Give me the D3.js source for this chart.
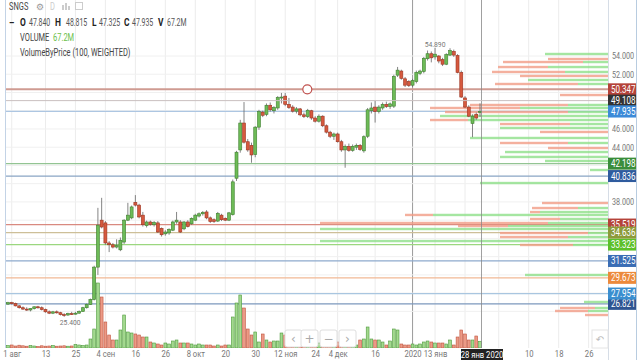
<!DOCTYPE html>
<html><head><meta charset="utf-8">
<script src="https://cdn.jsdelivr.net/npm/d3@7"></script>
<style>
body{margin:0;background:#fff;}
svg{display:block;font-family:Roboto,"Noto Sans",sans-serif;}
</style></head><body>
<script>
// OHLCV, one entry per trading day (1 Aug 2019 .. 28 Jan 2020)
var open = [26.80,26.95,26.85,26.60,26.40,26.25,26.15,26.30,26.50,26.40,
  26.20,25.95,25.80,25.95,25.85,25.65,25.60,25.75,25.70,25.80,
  26.00,26.40,26.75,27.30,30.85,36.00,35.70,33.50,33.30,33.05,
  32.75,33.60,36.00,36.25,37.95,37.65,36.55,35.40,35.80,35.50,
  35.70,35.10,34.50,34.60,34.90,35.80,35.80,35.05,35.80,35.60,
  36.00,36.45,36.70,36.90,36.25,36.05,35.90,36.55,36.20,36.00,
  36.60,40.60,43.70,46.65,44.60,44.20,43.20,46.20,47.85,47.60,
  48.60,48.00,48.30,49.40,49.60,48.70,48.40,47.95,48.20,47.55,
  47.35,48.00,47.20,46.85,47.40,46.35,45.65,45.20,45.45,44.60,
  43.70,44.10,43.65,44.00,44.20,43.60,45.20,48.00,48.40,47.90,
  48.30,48.70,48.45,48.50,51.90,52.35,51.50,51.20,50.80,51.20,
  52.10,52.30,53.70,54.25,53.90,54.00,53.60,53.10,54.10,54.50,
  54.05,52.20,49.40,48.40,46.60,47.60,47.84];
var high = [27.05,27.05,26.95,26.70,26.55,26.45,26.35,26.55,26.60,26.55,
  26.30,26.10,26.05,26.10,25.95,25.80,25.85,25.95,25.95,26.10,
  26.50,26.85,27.40,31.00,37.35,38.45,35.90,33.70,33.50,33.90,
  34.10,36.10,37.90,37.60,38.75,37.80,36.90,35.95,35.95,35.90,
  35.90,35.20,34.90,35.10,35.95,36.90,36.00,35.90,36.00,36.30,
  36.70,36.85,37.00,37.10,36.40,36.20,36.90,36.70,36.30,36.90,
  40.45,43.60,47.00,48.95,44.90,44.50,46.30,48.10,48.00,48.80,
  48.90,48.50,49.60,49.95,49.95,49.40,48.60,48.40,48.30,47.80,
  48.20,48.10,47.40,47.60,47.50,46.50,45.80,45.60,45.60,44.80,
  44.30,44.40,44.30,44.40,44.35,45.30,48.30,48.90,49.10,48.60,
  48.90,49.00,48.90,51.95,52.80,52.50,51.70,51.35,51.50,52.40,
  52.50,53.90,54.60,54.50,54.89,54.10,53.80,54.30,54.85,54.70,
  54.20,52.40,49.60,48.60,47.60,47.80,48.815];
var low = [26.70,26.75,26.55,26.30,26.15,26.05,26.00,26.20,26.30,26.10,
  25.85,25.70,25.70,25.75,25.55,25.40,25.50,25.60,25.65,25.75,
  25.95,26.30,26.70,27.20,30.00,35.10,33.30,32.50,32.90,32.90,
  32.60,33.40,35.90,36.10,37.50,36.20,35.30,35.20,35.40,35.30,
  34.60,34.20,34.30,34.40,34.80,35.60,34.60,34.90,35.20,35.50,
  35.90,36.30,36.50,36.10,35.70,35.70,35.80,35.90,35.90,35.90,
  36.50,40.30,43.40,44.40,43.50,42.30,42.90,45.90,47.30,47.40,
  47.90,47.70,48.10,48.80,48.50,48.20,47.80,47.70,47.40,47.20,
  47.20,47.00,46.70,46.70,46.20,45.50,45.00,44.80,44.50,43.50,
  41.75,43.50,43.50,43.70,43.60,43.40,45.00,47.70,46.70,47.70,
  48.10,48.30,48.20,48.30,51.70,51.40,50.60,50.60,50.60,51.00,
  51.90,52.10,53.50,53.30,53.60,53.20,52.90,53.00,54.00,53.90,
  52.10,49.40,48.30,47.30,45.10,47.00,47.325];
var close = [26.95,26.85,26.60,26.40,26.25,26.15,26.30,26.50,26.40,26.20,
  25.95,25.80,25.95,25.85,25.65,25.60,25.75,25.70,25.80,26.00,
  26.40,26.75,27.30,30.85,35.45,35.25,33.50,33.30,33.05,33.20,
  33.80,36.00,36.55,37.45,37.65,36.35,35.50,35.80,35.55,35.75,
  34.70,34.40,34.70,35.00,35.80,36.00,34.70,35.80,35.30,36.20,
  36.55,36.70,36.85,36.25,35.85,35.85,36.75,36.05,36.00,36.80,
  40.20,43.45,46.65,44.55,43.70,43.15,46.20,47.90,47.50,48.60,
  48.10,48.35,49.45,49.50,48.70,48.35,47.95,48.20,47.55,47.35,
  48.05,47.20,46.85,47.40,46.35,45.65,45.20,45.45,44.60,43.70,
  44.10,43.65,44.10,44.20,43.75,45.15,48.10,48.30,47.90,48.40,
  48.70,48.45,48.75,51.75,52.45,51.55,50.80,50.75,51.30,52.20,
  52.35,53.75,54.25,53.80,54.20,53.45,53.10,54.15,54.60,54.10,
  52.20,49.50,48.40,47.40,47.40,47.20,47.935];
// volume, millions
var volume = [25,30,20,28,22,18,25,20,15,22,
  18,20,25,18,20,22,18,20,35,30,
  25,30,90,190,650,510,260,130,80,80,
  180,330,160,150,140,130,110,110,60,50,
  40,30,50,40,70,80,50,50,50,40,
  30,40,30,30,30,20,30,20,30,30,
  310,450,530,400,190,130,160,60,140,80,
  60,70,70,150,130,60,50,40,50,40,
  60,50,40,50,60,70,50,40,60,70,
  90,40,30,30,80,90,210,90,80,80,
  60,30,70,190,180,40,30,30,40,30,
  40,60,70,60,50,50,50,40,80,30,
  110,180,140,80,80,120,67.2];

// x axis: day index of each label
var tickIdx = [1,10,18,26,34,42,50,58,66,74,82,88,98,108,114,122,131,139,147,155];
var tickLabels = ["1 авг","13","25","4 сен","16","26","8 окт","20","30","12 ноя","24",
  "4 дек","16","2020","13 янв","20","3 фев","10","18","26"];
var yTicks = [26,28,30,32,34,36,38,40,42,44,46,48,50,52,54];

// horizontal price levels and their label colours
var levelPrice = [26.821,27.954,29.673,31.525,33.323,35.519,34.636,40.836,42.198,47.935,50.347];
var levelLine  = ["#7d98bd","#a9c6e0","#f1b895","#8eaacd","#9bd77f","#d98a80","#cdbf98","#8aa5c4","#93c493","#adc6e2","#cf9b92"];
var levelBox   = ["#2f5592","#3a8ecf","#ec8a3c","#3a6db5","#5cc02a","#b5433a","#8d9a3a","#2f5b9e","#3a8d3a","#3c8ad8","#b5433a"];

// VolumeByPrice rows: bin price, up volume, down volume (millions)
var vbpPrice = [54.22,53.67,53.34,52.79,52.25,51.81,51.37,50.93,49.72,48.63,48.30,47.86,47.42,46.98,
  46.54,46.11,45.67,45.01,44.46,43.91,43.47,42.93,42.49,41.50,40.07,37.88,37.33,36.89,36.57,36.13,
  35.69,35.36,35.03,34.59,34.15,33.71,33.28,29.99,27.03,26.37,26.04,25.60];
var vbpUp = [630,0,250,600,430,0,800,300,0,400,880,400,1680,1400,
  380,1080,0,1380,400,0,1030,1080,630,180,1280,0,300,680,1750,480,
  600,1000,2880,200,400,2880,350,830,240,130,200,0];
var vbpDown = [0,600,800,500,730,880,0,830,480,980,900,1230,0,380,
  700,0,680,0,680,600,0,0,0,0,0,660,460,100,280,300,
  2280,500,0,880,680,0,530,0,0,350,330,230];

var crossIdx = 126, crossPrice = 49.108;
var markIdx = 79.9, markPrice = 50.347;

var W = 640, H = 360, left = 6, right = 608, bottom = 348;
var svg = d3.select("body").append("svg").attr("width", W).attr("height", H);

var x = d3.scaleLinear().domain([0, 126]).range([8, 480]);
var y = d3.scaleLinear().domain([24, 54]).range([329.6, 56]);
var v = d3.scaleLinear().domain([0, 700]).range([bottom, 278]);
var vb = d3.scaleLinear().domain([0, 2900]).range([0, 290]);

svg.append("defs").append("clipPath").attr("id", "plot")
  .append("rect").attr("x", left).attr("y", 0).attr("width", right - left).attr("height", bottom);

var plot = svg.append("g").attr("clip-path", "url(#plot)");

// grid
plot.selectAll(".vg").data(tickIdx).enter().append("line")
  .attr("x1", function(d){return x(d);}).attr("x2", function(d){return x(d);})
  .attr("y1", 0).attr("y2", bottom)
  .attr("stroke", function(d, i){return tickLabels[i] == "2020" ? "#9a9a9a" : "#ececec";})
  .attr("stroke-width", 1);
plot.selectAll(".hg").data(yTicks).enter().append("line")
  .attr("x1", left).attr("x2", right)
  .attr("y1", function(d){return y(d);}).attr("y2", function(d){return y(d);})
  .attr("stroke", "#f0f0f0");

// level lines
plot.selectAll(".lvl").data(levelPrice).enter().append("line")
  .attr("x1", left).attr("x2", right)
  .attr("y1", function(d){return y(d);}).attr("y2", function(d){return y(d);})
  .attr("stroke", function(d, i){return levelLine[i];})
  .attr("stroke-width", function(d){return d == markPrice ? 2 : 1.2;});

// volume by price
var rows = plot.append("g").attr("opacity", 0.8);
rows.selectAll(".up").data(vbpPrice).enter().append("rect")
  .attr("x", function(d, i){return right - vb(vbpUp[i]);})
  .attr("y", function(d){return y(d) - 1.2;})
  .attr("width", function(d, i){return vb(vbpUp[i]);})
  .attr("height", 2.4).attr("fill", "#8fe08a");
rows.selectAll(".dn").data(vbpPrice).enter().append("rect")
  .attr("x", function(d, i){return right - vb(vbpUp[i]) - vb(vbpDown[i]);})
  .attr("y", function(d){return y(d) - 1.2;})
  .attr("width", function(d, i){return vb(vbpDown[i]);})
  .attr("height", 2.4).attr("fill", "#f29d87");

// volume bars
plot.selectAll(".vol").data(volume).enter().append("rect")
  .attr("x", function(d, i){return x(i) - 1.4;})
  .attr("y", function(d){return v(d);})
  .attr("width", 2.8)
  .attr("height", function(d){return bottom - v(d);})
  .attr("fill", function(d, i){return close[i] >= open[i] ? "#a3d98f" : "#ec9a86";})
  .attr("stroke", function(d, i){return close[i] >= open[i] ? "#4f9a3c" : "#c0553f";})
  .attr("stroke-width", 0.6);

// candles
var idx = d3.range(open.length);
plot.selectAll(".wick").data(idx).enter().append("line")
  .attr("x1", function(i){return x(i);}).attr("x2", function(i){return x(i);})
  .attr("y1", function(i){return y(high[i]);}).attr("y2", function(i){return y(low[i]);})
  .attr("stroke", "#666").attr("stroke-width", 0.8);
plot.selectAll(".body").data(idx).enter().append("rect")
  .attr("x", function(i){return x(i) - 1.5;})
  .attr("y", function(i){return y(Math.max(open[i], close[i]));})
  .attr("width", 3)
  .attr("height", function(i){return Math.max(1, Math.abs(y(open[i]) - y(close[i])));})
  .attr("fill", function(i){return close[i] >= open[i] ? "#6dbb57" : "#d6593e";})
  .attr("stroke", function(i){return close[i] >= open[i] ? "#3f7f2f" : "#9b3420";})
  .attr("stroke-width", 0.6);

// max / min labels
var iMax = d3.maxIndex(high), iMin = d3.minIndex(low);
plot.append("text").attr("transform", "translate(" + x(iMax) + "," + (y(high[iMax]) - 1) + ") scale(0.85,1)")
  .attr("text-anchor", "middle").attr("font-size", 8).attr("fill", "#777")
  .text(high[iMax].toFixed(3));
plot.append("text").attr("transform", "translate(" + (x(iMin) + 6) + "," + (y(low[iMin]) + 8) + ") scale(0.85,1)")
  .attr("text-anchor", "middle").attr("font-size", 8).attr("fill", "#777")
  .text(low[iMin].toFixed(3));

// crosshair
plot.append("line").attr("x1", x(crossIdx) + 1.5).attr("x2", x(crossIdx) + 1.5)
  .attr("y1", 0).attr("y2", bottom).attr("stroke", "#888").attr("stroke-width", 0.8);
plot.append("line").attr("x1", left).attr("x2", right)
  .attr("y1", y(crossPrice)).attr("y2", y(crossPrice)).attr("stroke", "#c9bfbf").attr("stroke-width", 1);

// drawing anchor
plot.append("circle").attr("cx", x(markIdx)).attr("cy", y(markPrice)).attr("r", 4.5)
  .attr("fill", "#fff").attr("stroke", "#c0504d").attr("stroke-width", 1.2);

// frame
svg.append("line").attr("x1", 5.5).attr("x2", 5.5).attr("y1", 0).attr("y2", bottom).attr("stroke", "#c3d3e6");
svg.append("line").attr("x1", right + 0.5).attr("x2", right + 0.5).attr("y1", 0).attr("y2", H).attr("stroke", "#d6dde6");
svg.append("line").attr("x1", 636.5).attr("x2", 636.5).attr("y1", 0).attr("y2", H).attr("stroke", "#b8cce0");

// y axis (labels hidden where a level box sits on top of them)
var allLevels = levelPrice.concat([crossPrice]);
var ya = svg.append("g").attr("transform", "translate(" + right + ",0)")
  .call(d3.axisRight(y).tickValues(yTicks).tickFormat(d3.format(".3f")).tickSize(0));
ya.select(".domain").remove();
ya.selectAll("text").attr("x", 0).attr("font-size", 9).attr("fill", "#777")
  .attr("font-family", "Roboto").attr("transform", "translate(4,0) scale(0.8,1)")
  .attr("display", function(d){
    return allLevels.some(function(p){return Math.abs(y(p) - y(d)) < 9;}) ? "none" : null;
  });

// x axis (labels under the crosshair date box hidden)
var xa = svg.append("g").attr("transform", "translate(0," + bottom + ")")
  .call(d3.axisBottom(x).tickValues(tickIdx).tickFormat(function(d, i){return tickLabels[i];}).tickSize(0));
xa.select(".domain").remove();
xa.selectAll("text").attr("y", 3).attr("font-size", 9).attr("fill", "#777")
  .attr("font-family", "Roboto").attr("transform", "scale(0.85,1)")
  .attr("display", function(d){return Math.abs(x(d) - x(crossIdx)) < 22 ? "none" : null;});

// navigation buttons
var btn = svg.append("g").attr("font-family", "DejaVu Sans").attr("fill", "#aaa");
[["‹", 285], ["+", 301], ["−", 320], ["›", 339]].forEach(function(b){
  btn.append("rect").attr("x", b[1]).attr("y", 330).attr("width", 17).attr("height", 17)
    .attr("rx", 2).attr("fill", "#fff").attr("stroke", "#dedede");
  btn.append("text").attr("x", b[1] + 8.5).attr("y", 343).attr("text-anchor", "middle")
    .attr("font-size", 12).text(b[0]);
});
btn.append("rect").attr("x", 592).attr("y", 330).attr("width", 16).attr("height", 18)
  .attr("fill", "#fff").attr("stroke", "#e4e4e4");
btn.append("text").attr("x", 600).attr("y", 343).attr("text-anchor", "middle")
  .attr("font-size", 10).attr("fill", "#bbb").text("↶");

// price level boxes
var boxes = svg.append("g");
function box(p, col){
  boxes.append("rect").attr("x", right).attr("y", y(p) - 6).attr("width", 28).attr("height", 12)
    .attr("fill", col);
  boxes.append("text").attr("transform", "translate(611," + (y(p) + 3.5) + ") scale(0.8,1)")
    .attr("font-size", 10).attr("fill", "#fff").text(p.toFixed(3));
}
levelPrice.forEach(function(p, i){ box(p, levelBox[i]); });
box(crossPrice, "#333");
box(close[close.length - 1], "#3c8ad8");

// crosshair date box
svg.append("rect").attr("x", x(crossIdx) - 19).attr("y", 349).attr("width", 42).attr("height", 11)
  .attr("fill", "#222");
svg.append("text").attr("transform", "translate(" + (x(crossIdx) + 2) + ",358) scale(0.85,1)")
  .attr("text-anchor", "middle").attr("font-size", 9).attr("fill", "#fff").text("28 янв 2020");

// header
var hd = svg.append("g").attr("font-size", 10);
function ht(px, py, s, col, bold){
  hd.append("text").attr("transform", "translate(" + px + "," + py + ") scale(0.75,1)")
    .attr("fill", col).attr("font-weight", bold ? "bold" : "normal").text(s);
}
ht(9, 10, "SNGS", "#444");
hd.append("text").attr("x", 36).attr("y", 10).attr("font-family", "DejaVu Sans")
  .attr("font-size", 9).attr("fill", "#999").text("⚙");
ht(50, 10, "D", "#ccc");
hd.append("rect").attr("x", 62).attr("y", 5).attr("width", 2).attr("height", 5).attr("fill", "#ccc");
hd.append("rect").attr("x", 65).attr("y", 3).attr("width", 2).attr("height", 7).attr("fill", "#ccc");
hd.append("rect").attr("x", 68).attr("y", 6).attr("width", 2).attr("height", 4).attr("fill", "#ccc");
hd.append("rect").attr("x", 75.5).attr("y", 2.5).attr("width", 7).attr("height", 7).attr("fill", "none").attr("stroke", "#ccc");

var hx = [9, 20, 29, 55, 66, 92, 99, 124, 132, 158, 167];
var hs = ["–", "O", open[126].toFixed(3), "H", high[126].toFixed(3), "L", low[126].toFixed(3),
  "C", close[126].toFixed(3), "V", volume[126] + "M"];
hs.forEach(function(s, i){
  var lbl = i % 2 == 1 || i == 0;
  hd.append("text").attr("transform", "translate(" + hx[i] + ",26) scale(" + (lbl ? 0.8 : 0.66) + ",1)")
    .attr("font-size", 10.5).attr("fill", lbl ? "#222" : "#555")
    .attr("font-weight", lbl ? "bold" : "normal").text(s);
});
ht(20, 41, "VOLUME", "#444");
ht(53, 41, volume[126] + "M", "#6cc04a");
ht(20, 56, "VolumeByPrice (100, WEIGHTED)", "#444");
</script>
</body></html>
